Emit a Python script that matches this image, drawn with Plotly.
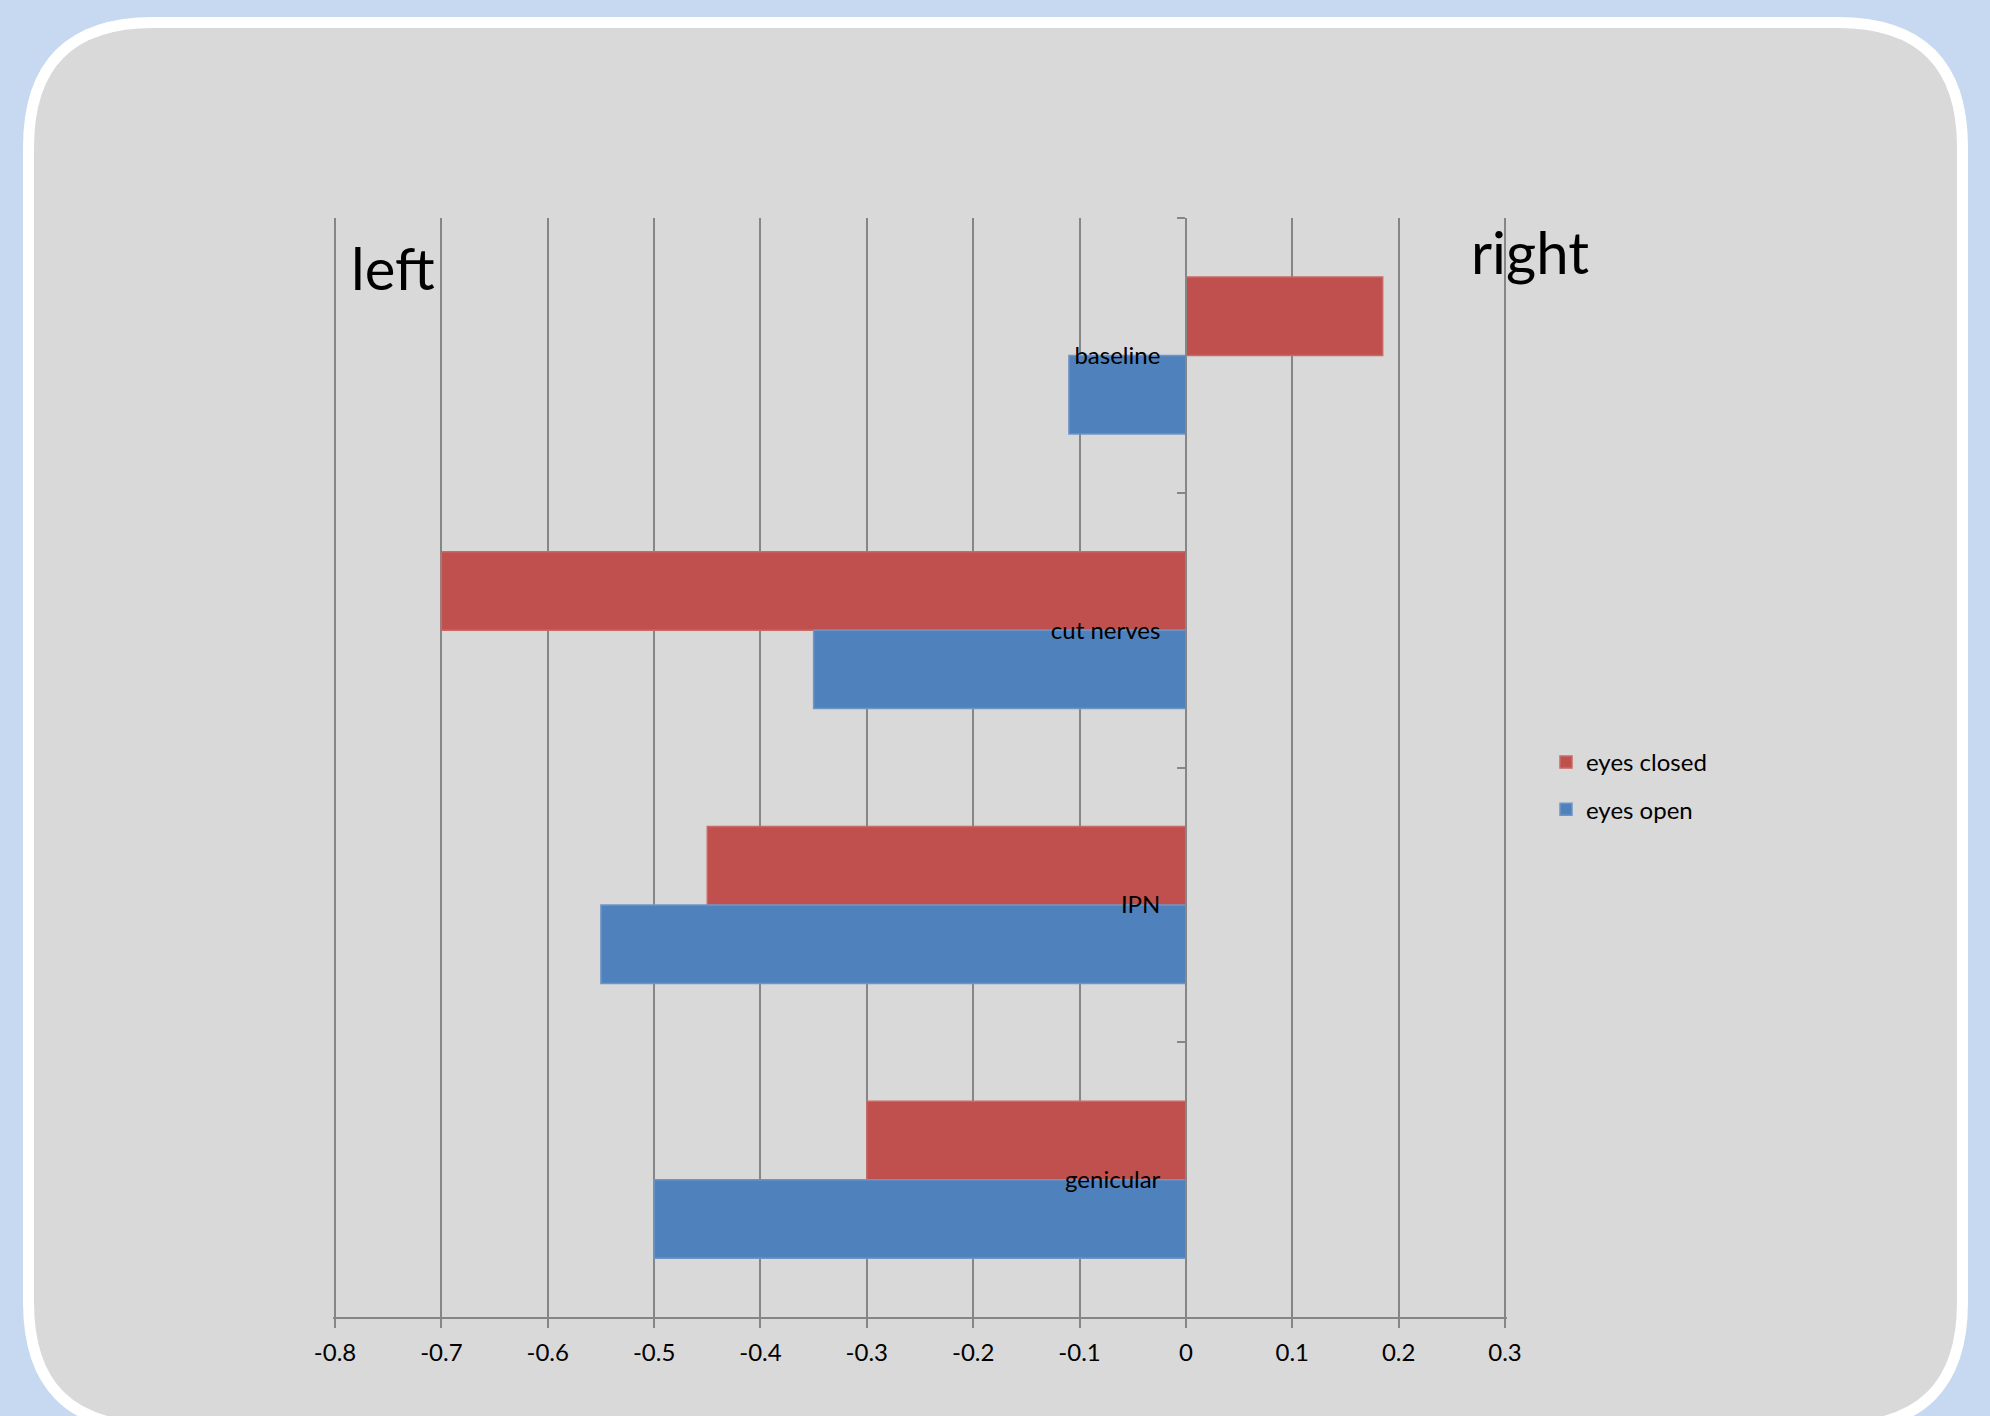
import plotly.graph_objects as go

# ---- data ----
categories = ["baseline", "cut nerves", "IPN", "genicular"]
eyes_closed = [0.185, -0.70, -0.45, -0.30]
eyes_open = [-0.11, -0.35, -0.55, -0.50]
x_ticks = [-0.8, -0.7, -0.6, -0.5, -0.4, -0.3, -0.2, -0.1, 0, 0.1, 0.2, 0.3]
x_tick_labels = ["-0.8", "-0.7", "-0.6", "-0.5", "-0.4", "-0.3", "-0.2", "-0.1", "0", "0.1", "0.2", "0.3"]

W, H = 1990, 1416
FONT = "Lato"
GRID = "#868686"


def px(x):
    return x / W


def py(y):
    return 1 - y / H


# plot area in pixels (range padded slightly so edge gridlines are drawn)
PAD = 0.002
PX_PER_UNIT = (1505 - 335) / 1.1
X0, X1 = 335 - PAD * PX_PER_UNIT, 1505 + PAD * PX_PER_UNIT
Y0, Y1 = 218, 1317
xr = [-0.8 - PAD, 0.3 + PAD]
zero_frac = (0 - xr[0]) / (xr[1] - xr[0])

fig = go.Figure()
fig.add_trace(go.Bar(
    name="eyes closed", y=categories, x=eyes_closed, orientation="h",
    marker=dict(color="#C0504D", line=dict(color="#C86A67", width=1.5)),
    legendgroup="a",
))
fig.add_trace(go.Bar(
    name="eyes open", y=categories, x=eyes_open, orientation="h",
    marker=dict(color="#4F81BD", line=dict(color="#6F95C6", width=1.5)),
    legendgroup="b",
))

# rounded background panel
x_l, x_r, y_t, y_b, r = 28.5, 1962.5, 22.5, 1427.0, 125
path = (
    f"M {px(x_l + r)},{py(y_t)} L {px(x_r - r)},{py(y_t)} "
    f"Q {px(x_r)},{py(y_t)} {px(x_r)},{py(y_t + r)} "
    f"L {px(x_r)},{py(y_b - r)} Q {px(x_r)},{py(y_b)} {px(x_r - r)},{py(y_b)} "
    f"L {px(x_l + r)},{py(y_b)} Q {px(x_l)},{py(y_b)} {px(x_l)},{py(y_b - r)} "
    f"L {px(x_l)},{py(y_t + r)} Q {px(x_l)},{py(y_t)} {px(x_l + r)},{py(y_t)} Z"
)

fig.update_layout(
    width=W, height=H,
    margin=dict(l=0, r=0, t=0, b=0, autoexpand=False),
    paper_bgcolor="#C6D9F1",
    plot_bgcolor="rgba(0,0,0,0)",
    font=dict(family=FONT, size=24, color="#000000"),
    barmode="group",
    bargap=1.5 / 3.5,
    bargroupgap=0,
    shapes=[dict(type="path", xref="paper", yref="paper", path=path,
                 fillcolor="#D9D9D9", line=dict(color="#FFFFFF", width=11),
                 layer="below")],
    xaxis=dict(
        domain=[px(X0), px(X1)],
        range=xr,
        tickmode="array", tickvals=x_ticks, ticktext=x_tick_labels,
        showgrid=True, gridcolor=GRID, gridwidth=1.5,
        zeroline=False,
        showline=True, linecolor=GRID, linewidth=2,
        ticks="outside", ticklen=9, tickcolor=GRID, tickwidth=1.5,
        ticklabelstandoff=4,
        tickfont=dict(family=FONT, size=24, color="#000000"),
        fixedrange=True,
    ),
    yaxis=dict(
        domain=[py(Y1), py(Y0)],
        type="category",
        categoryorder="array", categoryarray=categories,
        autorange="reversed",
        anchor="free",
        position=px(X0) + zero_frac * (px(X1) - px(X0)),
        showgrid=False, zeroline=False,
        showline=True, linecolor=GRID, linewidth=1.5,
        ticks="outside", ticklen=8, tickcolor=GRID, tickwidth=1.5,
        tickson="boundaries",
        ticklabelstandoff=20,
        tickfont=dict(family=FONT, size=24, color="#000000"),
        fixedrange=True,
    ),
    legend=dict(
        x=px(1546), y=py(740), xanchor="left", yanchor="top",
        bgcolor="rgba(0,0,0,0)",
        font=dict(family=FONT, size=24, color="#000000"),
        tracegroupgap=13,
        itemwidth=30,
    ),
    showlegend=True,
    annotations=[
        dict(text="left", xref="paper", yref="paper", x=px(349), y=py(268),
             xanchor="left", yanchor="middle", showarrow=False,
             font=dict(family=FONT, size=58, color="#000000")),
        dict(text="right", xref="paper", yref="paper", x=px(1469), y=py(252),
             xanchor="left", yanchor="middle", showarrow=False,
             font=dict(family=FONT, size=58, color="#000000")),
    ],
)

fig.write_html("out.html")
